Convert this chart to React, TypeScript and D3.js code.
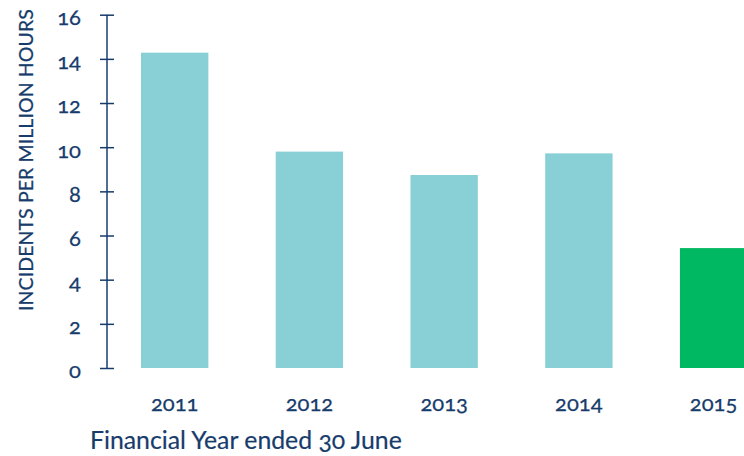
import React, { useRef, useEffect } from 'react';
import { select, scaleBand, scaleLinear, axisLeft } from 'd3';

const years = ['2011', '2012', '2013', '2014', '2015'];
const incidents = [14.28, 9.8, 8.74, 9.72, 5.43];
const yTicks = [0, 2, 4, 6, 8, 10, 12, 14, 16];
const barColors = ['#88d0d6', '#88d0d6', '#88d0d6', '#88d0d6', '#00b862'];

const W = 744;
const H = 456;
const navy = '#173c6c';
const font = 'Lato, "Noto Sans", sans-serif';

const App = () => {
  const svgRef = useRef(null);

  useEffect(() => {
    const svg = select(svgRef.current);

    const xScale = scaleBand()
      .domain(years)
      .range([107.3, 781])
      .paddingInner(0.5)
      .paddingOuter(0.25);

    const yScale = scaleLinear().domain([0, 16]).range([368, 14.7]);

    const yAxis = axisLeft(yScale)
      .tickValues(yTicks)
      .tickSize(7)
      .tickPadding(0)
      // @ts-ignore
      .tickFormat((d) => String(d));

    const yg = svg.select('.y-axis').attr('transform', 'translate(107,0)');
    // @ts-ignore
    yg.call(yAxis);
    yg.select('.domain').remove();
    yg.selectAll('.axis-line')
      .data([0])
      .join('line')
      .attr('class', 'axis-line')
      .attr('x1', 0)
      .attr('x2', 0)
      .attr('y1', yScale(16))
      .attr('y2', yScale(0))
      .attr('stroke', navy)
      .attr('stroke-width', 1.5);
    // ticks cross the axis on both sides
    yg.selectAll('.tick line')
      .attr('x1', -7)
      .attr('x2', 7)
      .attr('stroke', navy)
      .attr('stroke-width', 1.5);
    yg.selectAll('.tick text')
      .attr('x', -26)
      .attr('dy', '0.45em')
      .attr('fill', navy)
      .attr('stroke', navy)
      .attr('stroke-width', 0.25)
      .style('font-family', font)
      .style('font-size', '22px')
      .style('font-variant-numeric', 'oldstyle-nums');

    svg
      .selectAll('.bar')
      .data(incidents)
      .join('rect')
      .attr('class', 'bar')
      .attr('x', (d, i) => xScale(years[i]))
      .attr('y', (d) => yScale(d))
      .attr('width', xScale.bandwidth())
      .attr('height', (d) => yScale(0) - yScale(d))
      .attr('fill', (d, i) => barColors[i]);

    svg
      .selectAll('.year')
      .data(years)
      .join('text')
      .attr('class', 'year')
      // @ts-ignore
      .attr('x', (d) => xScale(d) + xScale.bandwidth() / 2)
      .attr('y', 411)
      .attr('text-anchor', 'middle')
      .attr('fill', navy)
      .attr('stroke', navy)
      .attr('stroke-width', 0.25)
      .style('font-family', font)
      .style('font-size', '22px')
      .style('font-variant-numeric', 'oldstyle-nums')
      .text((d) => d);
  }, []);

  return (
    <svg
      ref={svgRef}
      width={W}
      height={H}
      style={{ position: 'absolute', left: 0, top: 0, background: '#fff' }}
    >
      <g className="y-axis" />
      <text
        transform="translate(33,160) rotate(-90)"
        textAnchor="middle"
        fill={navy}
        stroke={navy}
        strokeWidth={0.25}
        style={{ fontFamily: font, fontSize: '19.5px', letterSpacing: '0.1px' }}
      >
        INCIDENTS PER MILLION HOURS
      </text>
      <text
        x={90}
        y={449}
        fill={navy}
        stroke={navy}
        strokeWidth={0.2}
        style={{ fontFamily: font, fontSize: '24.8px', fontVariantNumeric: 'oldstyle-nums' }}
      >
        Financial Year ended 30 June
      </text>
    </svg>
  );
};

export default App;
